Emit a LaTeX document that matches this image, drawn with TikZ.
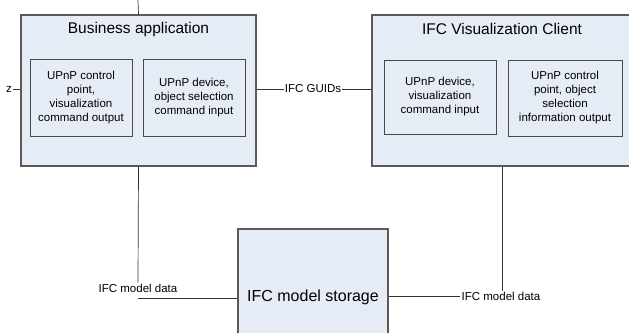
\documentclass[tikz,border=0pt]{standalone}
\usepackage{fontspec}
\setmainfont{Liberation Sans}
\usepackage{tikz}
\usetikzlibrary{calc}
\definecolor{boxfill}{HTML}{E6ECF6}
\definecolor{boxline}{HTML}{5A5A5A}
\newcommand{\wire}[2]{\draw[line width=.7pt,black!80] (#1)--(#2);}
\tikzset{
  outerbox/.style={draw=boxline,fill=boxfill,line width=1.1pt,inner sep=0pt},
  innerbox/.style={draw=boxline!80!black,fill=boxfill,line width=.6pt,inner sep=0pt,
    align=center,font=\fontsize{11.5}{14}\selectfont},
  titletext/.style={font=\fontsize{15.5}{18}\selectfont},
  wiretext/.style={font=\fontsize{11.5}{14}\selectfont,inner sep=1pt}
}

\begin{document}
\begin{tikzpicture}[x=1pt,y=-1pt]
  \useasboundingbox (0,0) rectangle (629,332);

  % outer boxes
  \node[outerbox,minimum width=235pt,minimum height=151pt] (ba) at (138.5,90.5) {};
  \node[outerbox,minimum width=260pt,minimum height=151pt] (vc) at (502,90.5) {};
  \node[outerbox,minimum width=150pt,minimum height=136pt] (ms) at (313,297) {};

  \node[titletext] (batitle) at (138.5,29) {Business application};
  \node[titletext] (vctitle) at (502,29) {IFC Visualization Client};
  \node[font=\fontsize{16}{19}\selectfont] (mstitle) at (313,297) {IFC model storage};

  % inner boxes
  \node[innerbox,minimum width=102pt,minimum height=77pt] (ba1) at (81,97.5)
    {UPnP control\\point,\\visualization\\command output};
  \node[innerbox,minimum width=102pt,minimum height=77pt] (ba2) at (194,97.5)
    {UPnP device,\\object selection\\command input};
  \node[innerbox,minimum width=112pt,minimum height=74pt] (vc1) at (440,97)
    {UPnP device,\\visualization\\command input};
  \node[innerbox,minimum width=114pt,minimum height=76pt] (vc2) at (565,98)
    {UPnP control\\point, object\\selection\\information output};

  % wire labels
  \node[wiretext] (z)    at (9,89)    {z};
  \node[wiretext] (guid) at (313,89)  {IFC GUIDs};
  \node[wiretext] (md1)  at (138,288) {IFC model data};
  \node[wiretext] (md2)  at (501,296) {IFC model data};

  \coordinate (top) at (138,0);
  \coordinate (c1)  at (138,298);

  % wires
  \wire{top}{ba.north}
  \wire{z.east}{z.east -| ba.west}
  \wire{ba.east |- guid.west}{guid.west}
  \wire{guid.east}{guid.east -| vc.west}
  \wire{ba.south}{md1.north}
  \wire{c1}{c1 -| ms.west}
  \wire{ms.east |- md2.west}{md2.west}
  \wire{vc.south}{vc.south |- md2.north}
\end{tikzpicture}
\end{document}
